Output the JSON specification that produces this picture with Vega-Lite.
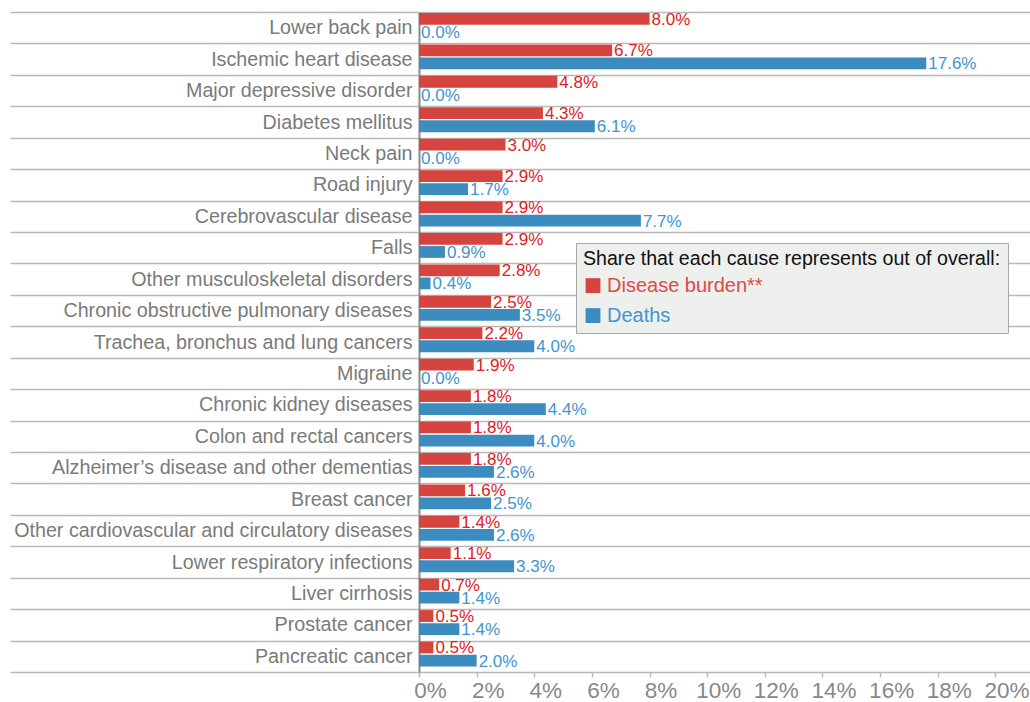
{
  "$schema": "https://vega.github.io/schema/vega-lite/v6.json",
  "autosize": {"type": "none"},
  "width": 611,
  "height": 660,
  "padding": {"left": 419, "top": 12, "right": 0, "bottom": 30},
  "background": "white",
  "config": {
    "view": {"stroke": null},
    "font": "Liberation Sans"
  },
  "data": {
    "values": [
      {"cause": "Lower back pain", "measure": "Disease burden**", "value": 0.080},
      {"cause": "Lower back pain", "measure": "Deaths", "value": 0.000},
      {"cause": "Ischemic heart disease", "measure": "Disease burden**", "value": 0.067},
      {"cause": "Ischemic heart disease", "measure": "Deaths", "value": 0.176},
      {"cause": "Major depressive disorder", "measure": "Disease burden**", "value": 0.048},
      {"cause": "Major depressive disorder", "measure": "Deaths", "value": 0.000},
      {"cause": "Diabetes mellitus", "measure": "Disease burden**", "value": 0.043},
      {"cause": "Diabetes mellitus", "measure": "Deaths", "value": 0.061},
      {"cause": "Neck pain", "measure": "Disease burden**", "value": 0.030},
      {"cause": "Neck pain", "measure": "Deaths", "value": 0.000},
      {"cause": "Road injury", "measure": "Disease burden**", "value": 0.029},
      {"cause": "Road injury", "measure": "Deaths", "value": 0.017},
      {"cause": "Cerebrovascular disease", "measure": "Disease burden**", "value": 0.029},
      {"cause": "Cerebrovascular disease", "measure": "Deaths", "value": 0.077},
      {"cause": "Falls", "measure": "Disease burden**", "value": 0.029},
      {"cause": "Falls", "measure": "Deaths", "value": 0.009},
      {"cause": "Other musculoskeletal disorders", "measure": "Disease burden**", "value": 0.028},
      {"cause": "Other musculoskeletal disorders", "measure": "Deaths", "value": 0.004},
      {"cause": "Chronic obstructive pulmonary diseases", "measure": "Disease burden**", "value": 0.025},
      {"cause": "Chronic obstructive pulmonary diseases", "measure": "Deaths", "value": 0.035},
      {"cause": "Trachea, bronchus and lung cancers", "measure": "Disease burden**", "value": 0.022},
      {"cause": "Trachea, bronchus and lung cancers", "measure": "Deaths", "value": 0.040},
      {"cause": "Migraine", "measure": "Disease burden**", "value": 0.019},
      {"cause": "Migraine", "measure": "Deaths", "value": 0.000},
      {"cause": "Chronic kidney diseases", "measure": "Disease burden**", "value": 0.018},
      {"cause": "Chronic kidney diseases", "measure": "Deaths", "value": 0.044},
      {"cause": "Colon and rectal cancers ", "measure": "Disease burden**", "value": 0.018},
      {"cause": "Colon and rectal cancers ", "measure": "Deaths", "value": 0.040},
      {"cause": "Alzheimer’s disease and other dementias", "measure": "Disease burden**", "value": 0.018},
      {"cause": "Alzheimer’s disease and other dementias", "measure": "Deaths", "value": 0.026},
      {"cause": "Breast cancer", "measure": "Disease burden**", "value": 0.016},
      {"cause": "Breast cancer", "measure": "Deaths", "value": 0.025},
      {"cause": "Other cardiovascular and circulatory diseases", "measure": "Disease burden**", "value": 0.014},
      {"cause": "Other cardiovascular and circulatory diseases", "measure": "Deaths", "value": 0.026},
      {"cause": "Lower respiratory infections", "measure": "Disease burden**", "value": 0.011},
      {"cause": "Lower respiratory infections", "measure": "Deaths", "value": 0.033},
      {"cause": "Liver cirrhosis", "measure": "Disease burden**", "value": 0.007},
      {"cause": "Liver cirrhosis", "measure": "Deaths", "value": 0.014},
      {"cause": "Prostate cancer", "measure": "Disease burden**", "value": 0.005},
      {"cause": "Prostate cancer", "measure": "Deaths", "value": 0.014},
      {"cause": "Pancreatic cancer", "measure": "Disease burden**", "value": 0.005},
      {"cause": "Pancreatic cancer", "measure": "Deaths", "value": 0.020}
    ]
  },
  "encoding": {
    "y": {
      "field": "cause",
      "type": "nominal",
      "sort": null,
      "scale": {"paddingInner": 0, "paddingOuter": 0},
      "axis": {
        "title": null,
        "tickBand": "extent",
        "grid": true,
        "gridColor": "#b8b8b8",
        "gridWidth": 1.6,
        "ticks": true,
        "tickSize": 409,
        "tickColor": "#b8b8b8",
        "tickWidth": 1.6,
        "labelPadding": -402,
        "labelFontSize": 19.7,
        "labelColor": "#7a7a7a",
        "labelLimit": 600,
        "domain": true,
        "domainColor": "#8a8a8a",
        "domainWidth": 2
      }
    },
    "yOffset": {
      "field": "measure",
      "type": "nominal",
      "sort": ["Disease burden**", "Deaths"],
      "scale": {"paddingInner": 0.1, "paddingOuter": 0.25, "align": 0.15}
    },
    "x": {
      "field": "value",
      "type": "quantitative",
      "scale": {"domain": [0, 0.212], "nice": false},
      "axis": {
        "title": null,
        "values": [0, 0.02, 0.04, 0.06, 0.08, 0.10, 0.12, 0.14, 0.16, 0.18, 0.20],
        "format": ".0%",
        "grid": false,
        "domain": false,
        "ticks": true,
        "tickSize": 5,
        "tickColor": "#b8b8b8",
        "tickWidth": 1.5,
        "labelFontSize": 22.5,
        "labelColor": "#888888",
        "labelPadding": 2,
        "labelFlush": false,
        "labelAlign": "center",
        "labelOffset": 11
      }
    }
  },
  "layer": [
    {
      "mark": {"type": "bar"},
      "encoding": {
        "color": {
          "field": "measure",
          "type": "nominal",
          "scale": {"domain": ["Disease burden**", "Deaths"], "range": ["#d6443f", "#3d8cc0"]},
          "legend": {
            "title": "Share that each cause represents out of overall:",
            "orient": "none",
            "legendX": 157,
            "legendY": 231,
            "direction": "vertical",
            "fillColor": "#eef0ee",
            "strokeColor": "#a8a8a8",
            "padding": 7,
            "titleFontSize": 19.6,
            "titleFontWeight": "normal",
            "titleColor": "#111111",
            "titleLimit": 600,
            "titlePadding": 6,
            "labelFontSize": 20,
            "labelLimit": 400,
            "symbolType": "square",
            "symbolSize": 220,
            "symbolStrokeWidth": 0,
            "rowPadding": 10,
            "labelOffset": 4,
            "encode": {
              "labels": {
                "update": {
                  "fill": {"signal": "datum.label === 'Deaths' ? '#3f95cf' : '#e04a46'"}
                }
              }
            }
          }
        }
      }
    },
    {
      "mark": {"type": "text", "align": "left", "baseline": "middle", "dx": 2, "dy": 1, "fontSize": 17},
      "encoding": {
        "text": {"field": "value", "type": "quantitative", "format": ".1%"},
        "color": {
          "condition": {"test": "datum.measure === 'Deaths'", "value": "#3f95cf"},
          "value": "#e0201f"
        }
      }
    }
  ]
}
